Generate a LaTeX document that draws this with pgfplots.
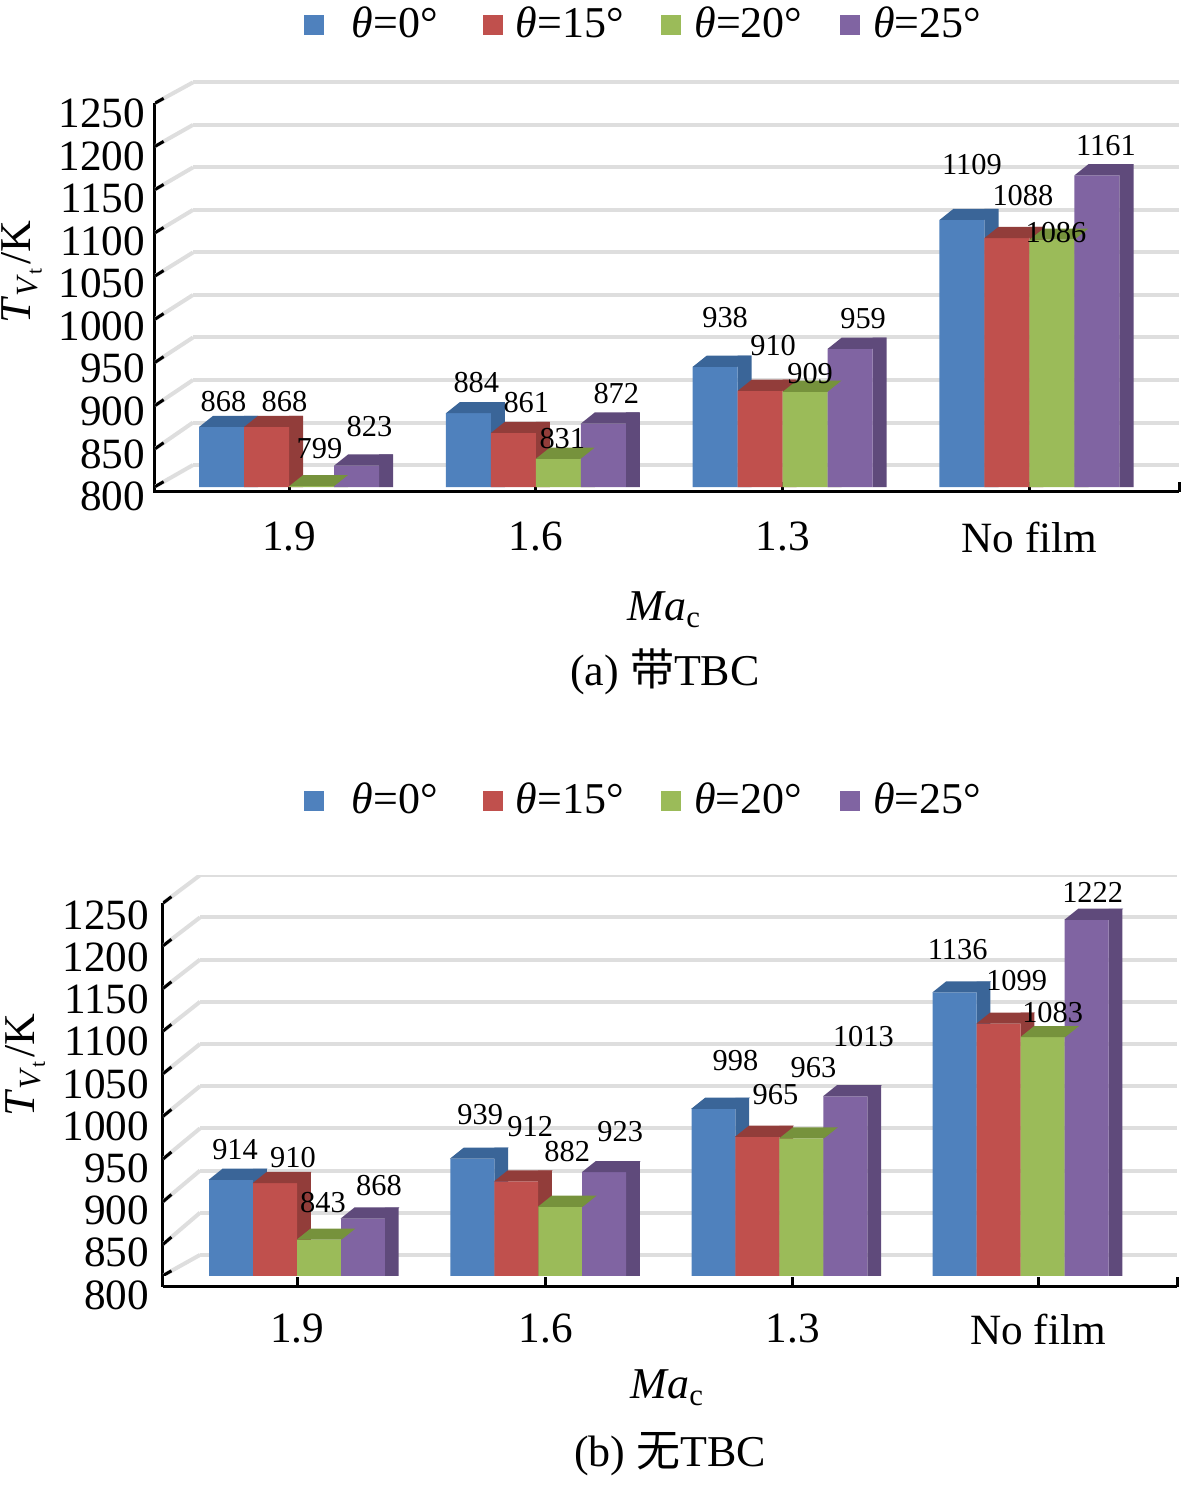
\documentclass[border=0pt]{standalone}
\usepackage{fontspec}
\setmainfont{Liberation Serif}
\newfontfamily\cjk{Noto Sans CJK SC}
\usepackage{pgfplots}
\usepackage{pgfplotstable}
\pgfplotsset{compat=1.18}

\definecolor{cA}{HTML}{4F81BD}\definecolor{cAd}{HTML}{3A6598}
\definecolor{cB}{HTML}{C0504D}\definecolor{cBd}{HTML}{923D3A}
\definecolor{cC}{HTML}{9BBB59}\definecolor{cCd}{HTML}{76923C}
\definecolor{cD}{HTML}{8064A2}\definecolor{cDd}{HTML}{5F4A7B}

% top face of a 3-D bar (fixed size, drawn at the front top centre of a bar)
\pgfdeclareplotmark{topface}{%
 \pgfpathmoveto{\pgfqpoint{-5.6pt}{0pt}}%
 \pgfpathlineto{\pgfqpoint{-2.1pt}{2.8pt}}%
 \pgfpathlineto{\pgfqpoint{9.1pt}{2.8pt}}%
 \pgfpathlineto{\pgfqpoint{5.6pt}{0pt}}%
 \pgfpathclose\pgfusepathqfill}

% with TBC: values and label offsets (px: right, up)
\pgfplotstableread{
x  b    r    g    p    bx by rx ry gx gy qx qy
0  868  868  799  823  2  25 18 25 8  38 13 39
1  884  861  831  872  8  31 13 30 4  20 13 30
2  938  910  909  959  10 49 13 45 5  18 13 30
3  1109 1088 1086 1161 10 55 16 42 4  7  9  30
}\tabA
% without TBC
\pgfplotstableread{
x  b    r    g    p    bx by rx ry gx gy qx qy
0  914  910  843  868  4  30 18 26 4  37 16 33
1  939  912  882  923  8  44 14 55 7  55 16 41
2  998  965  963  1013 22 48 18 42 12 71 18 60
3  1136 1099 1083 1222 3  43 18 43 10 25 6  27
}\tabB
% back-wall grid levels: front (at the y axis) and back heights
\pgfplotstableread{
f      b
798.5  823.7
842.6  873.2
892.9  922.7
943.2  972.2
993.5  1021.7
1043.8 1071.2
1094.1 1120.7
1144.4 1170.2
1194.7 1219.7
1245.0 1269.2
}\gridA
\pgfplotstableread{
f      b
800.5  825
837.5  875
888.1  925
938.6  975
989.2  1025
1039.7 1075
1090.2 1125
1140.8 1175
1191.3 1225
1241.9 1275
}\gridB

\newcommand\wall[4]{% table, xmin, xback, xmax
 \addplot[-, black!13, line width=1pt, forget plot,
   quiver={u=#3-(#2), v=\thisrow{b}-\thisrow{f}}] table[x expr=#2, y=f]{#1};
 \addplot[-, black!13, line width=1pt, forget plot,
   quiver={u=#4-(#3), v=0}] table[x expr=#3, y=b]{#1};
 \addplot[-, black, line width=0.75pt, forget plot,
   quiver={u=0.035, v=0.23*(\thisrow{b}-\thisrow{f})}] table[x expr=#2, y=f]{#1};
}
\newcommand\barset[5]{% table, ycol, shift, sideshift, colour
 \addplot[ybar, bar width=0.057, bar shift=#4, fill=#5d, draw=none, forget plot]
   table[x=x, y expr=\thisrow{#2}+13]{#1};
 \addplot[only marks, mark=topface, color=#5d, forget plot]
   table[x expr=\thisrow{x}+#3, y=#2]{#1};
 \addplot[ybar, bar width=0.1823, bar shift=#3, fill=#5, draw=none]
   table[x=x, y=#2]{#1};
}
\newcommand\labels[7]{% table, ycol, lx, ly, shift, xunits per px, yunits per px
 \addplot[only marks, mark=*, mark size=0pt, forget plot, nodes near coords, point meta=explicit,
   every node near coord/.append style={anchor=center, inner sep=0pt}]
   table[x expr=\thisrow{x}+#5+#6*\thisrow{#3}, y expr=\thisrow{#2}+#7*\thisrow{#4}, meta=#2]{#1};
}

\pgfplotsset{
 common/.style={
  scale only axis,
  ymin=800, ymax=1275,
  yticklabels={800,850,900,950,1000,1050,1100,1150,1200,1250},
  axis lines=left,
  axis line style={-, line width=0.75pt, black},
  xticklabels={1.9,1.6,1.3,No film},
  extra x tick labels={},
  tick align=inside,
  major tick length=2.6pt,
  xtick style={line width=0.75pt, black},
  ytick style={draw=none},
  tick label style={font=\fontsize{10.8}{12}\selectfont},
  label style={font=\fontsize{11}{13}\selectfont},
  title style={font=\fontsize{11}{13}\selectfont, anchor=center, yshift=-6pt},
  legend columns=4,
  legend style={draw=none, fill=none, font=\fontsize{11}{13}\selectfont, anchor=center,
    nodes={text width=27.5pt, align=left},
    /tikz/every odd column/.append style={column sep=1.25pt},
    /tikz/every even column/.append style={column sep=6.95pt}},
  legend image code/.code={\fill[##1] (0pt,-2.5pt) rectangle (5pt,2.5pt);},
  /pgf/number format/1000 sep={},
  /pgf/number format/assume math mode=true,
  every node near coord/.append style={font=\fontsize{7.6}{9}\selectfont},
  ylabel={\textit{T}\textsubscript{\textit{V}\textsubscript{t}}/K},
  xlabel={\textit{Ma}\textsubscript{c}},
 }
}

\begin{document}
\begin{tikzpicture}
\useasboundingbox (0,0) rectangle (295.25pt,373.25pt);
\begin{axis}[common,
  ymin=798,
  at={(38.75pt,251.475pt)}, anchor=south west,
  width=256pt, height=102.43pt,
  xmin=-0.543, xmax=3.606,
  ytick={824,873.5,923,972.5,1022,1071.5,1121,1170.5,1220,1269.5},
  y axis line style={shorten <=-1.4pt, shorten >=6.4pt},
  xtick={0,1,2,3}, extra x ticks={3.606},
  axis x line shift=1.22pt,
  yticklabel style={yshift=-7.9pt, xshift=1pt},
  xticklabel style={yshift=-4pt},
  ylabel style={at={(axis description cs:-0.130,0.525)}, anchor=center},
  xlabel style={at={(axis description cs:0.498,-0.300)}, anchor=center},
  title={(a) {\cjk 带}TBC},
  title style={at={(axis description cs:0.498,-0.4513)}},
  legend style={at={(axis description cs:0.481,1.1279)}},
]
\wall{\gridA}{-0.543}{-0.389}{3.606}
\barset{\tabA}{b}{-0.2735}{-0.15385}{cA}
\barset{\tabA}{r}{-0.0912}{0.02845}{cB}
\barset{\tabA}{g}{0.0912}{0.21085}{cC}
\barset{\tabA}{p}{0.2735}{0.39315}{cD}
\legend{\hspace{3.7pt}\textit{θ}=0°,\textit{θ}=15°,\textit{θ}=20°,\textit{θ}=25°}
\labels{\tabA}{b}{bx}{by}{-0.2735}{0.004054}{1.164}
\labels{\tabA}{r}{rx}{ry}{-0.0912}{0.004054}{1.164}
\labels{\tabA}{g}{gx}{gy}{0.0912}{0.004054}{1.164}
\labels{\tabA}{p}{qx}{qy}{0.2735}{0.004054}{1.164}
\end{axis}

\begin{axis}[common,
  at={(40.75pt,54.25pt)}, anchor=south west,
  width=253.5pt, height=100.2pt,
  xmin=-0.5556, xmax=3.648,
  ytick={825,875,...,1275},
  y axis line style={shorten <=-2.75pt, shorten >=7pt},
  xtick={0,1.032,2.056,3.072}, extra x ticks={3.648},
  axis x line shift=2.75pt,
  yticklabel style={yshift=-10pt},
  xticklabel style={yshift=-3.25pt},
  ylabel style={at={(axis description cs:-0.136,0.5263)}, anchor=center},
  xlabel style={at={(axis description cs:0.498,-0.2794)}, anchor=center},
  title={(b) {\cjk 无}TBC},
  title style={at={(axis description cs:0.5,-0.444)}},
  legend style={at={(axis description cs:0.4778,1.185)}},
]
\wall{\gridB}{-0.5556}{-0.402}{3.648}
\barset{\tabB}{b}{-0.2735}{-0.15385}{cA}
\barset{\tabB}{r}{-0.0912}{0.02845}{cB}
\barset{\tabB}{g}{0.0912}{0.21085}{cC}
\barset{\tabB}{p}{0.2735}{0.39315}{cD}
\legend{\hspace{3.7pt}\textit{θ}=0°,\textit{θ}=15°,\textit{θ}=20°,\textit{θ}=25°}
\labels{\tabB}{b}{bx}{by}{-0.2735}{0.004146}{1.185}
\labels{\tabB}{r}{rx}{ry}{-0.0912}{0.004146}{1.185}
\labels{\tabB}{g}{gx}{gy}{0.0912}{0.004146}{1.185}
\labels{\tabB}{p}{qx}{qy}{0.2735}{0.004146}{1.185}
\end{axis}
\end{tikzpicture}
\end{document}
